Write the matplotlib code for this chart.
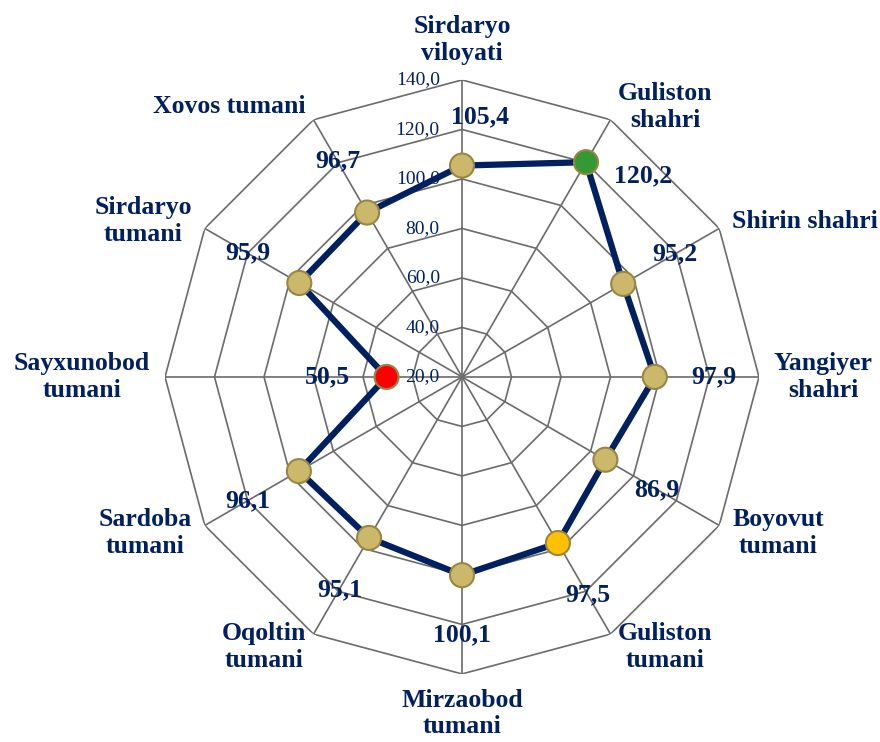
import numpy as np
import matplotlib
matplotlib.use('Agg')
import matplotlib.pyplot as plt

# data
categories = ['Sirdaryo\nviloyati', 'Guliston\nshahri', 'Shirin shahri', 'Yangiyer\nshahri',
              'Boyovut\ntumani', 'Guliston\ntumani', 'Mirzaobod\ntumani', 'Oqoltin\ntumani',
              'Sardoba\ntumani', 'Sayxunobod\ntumani', 'Sirdaryo\ntumani', 'Xovos tumani']
values = [105.4, 120.2, 95.2, 97.9, 86.9, 97.5, 100.1, 95.1, 96.1, 50.5, 95.9, 96.7]
r_ticks = [20, 40, 60, 80, 100, 120, 140]

navy = '#002060'
grid_col = '#6b6b6b'
tan = '#CBB86B'
special = {1: '#339933', 5: '#FFC000', 9: '#FF0000'}

def comma(v):
    return ('%.1f' % v).replace('.', ',')

plt.rcParams['font.family'] = ['Liberation Serif', 'DejaVu Serif']

fig = plt.figure(figsize=(8.8, 7.42), dpi=100)
ax = fig.add_axes([0.1875, 0.0917, 0.675, 0.8006], projection='polar')
ax.set_theta_zero_location('N')
ax.set_theta_direction(-1)
ax.set_ylim(r_ticks[0], r_ticks[-1])
ax.grid(False)
ax.set_xticks([])
ax.set_yticks([])
ax.spines['polar'].set_visible(False)

n = len(categories)
ang = np.arange(n) * 2 * np.pi / n
ang_c = np.append(ang, ang[0])

# polygon grid + spokes
for r in r_ticks[1:]:
    ax.plot(ang_c, [r] * (n + 1), color=grid_col, lw=1.2, zorder=1)
for a in ang:
    ax.plot([a, a], [r_ticks[0], r_ticks[-1]], color=grid_col, lw=1.2, zorder=1)

# tick labels along the top spoke
for r in r_ticks:
    ax.annotate(comma(r), xy=(0, r), xytext=(-16, 0), textcoords='offset points',
                ha='right', va='center', fontsize=14, color=navy, zorder=2)

# series line and markers
vals_c = np.append(values, values[0])
ax.plot(ang_c, vals_c, color=navy, lw=4.5, zorder=3, solid_joinstyle='miter')
cols = [special.get(i, tan) for i in range(n)]
ax.scatter(ang, values, s=300, c=cols, edgecolors='#9a8644', linewidths=1.5, zorder=4)

# category labels
for a, lab in zip(ang, categories):
    s, c = np.sin(a), np.cos(a)
    ha = 'left' if s > 0.1 else ('right' if s < -0.1 else 'center')
    va = 'bottom' if c > 0.9 else ('top' if c < -0.9 else 'center')
    ax.text(a, 146, lab, ha=ha, va=va, multialignment='center',
            fontsize=18.5, fontweight='bold', color=navy, zorder=5)

# value labels
nudge = {0: (np.radians(4), -4), 1: (np.radians(12), -15)}
for i, (a, v) in enumerate(zip(ang, values)):
    da, dr = nudge.get(i, (0, 0))
    ax.text(a + da, v + 24 + dr, comma(v), ha='center', va='center',
            fontsize=18.5, fontweight='bold', color=navy, zorder=5)

fig.savefig('out.png', dpi=100)
